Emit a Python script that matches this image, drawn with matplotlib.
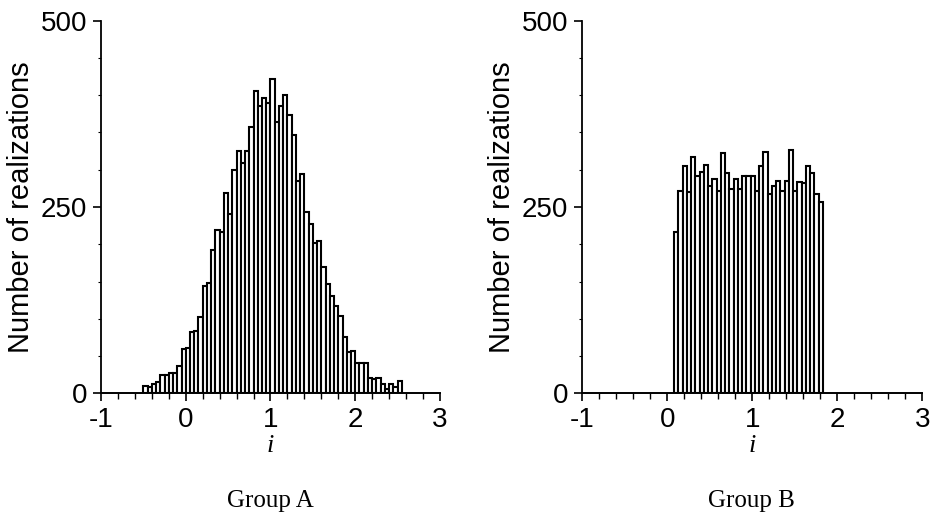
import numpy as np
import matplotlib
matplotlib.use('Agg')
import matplotlib.pyplot as plt
from matplotlib.ticker import MultipleLocator

# Histogram counts (bins of width 0.05)
bin_width = 0.05
a_start = -0.5
a_counts = [10, 8, 13, 15, 25, 24, 27, 27, 37, 59,
            61, 82, 84, 103, 144, 148, 192, 219, 216, 269,
            241, 300, 325, 309, 325, 357, 406, 385, 396, 390,
            422, 364, 385, 400, 374, 347, 285, 294, 243, 227,
            202, 204, 170, 146, 131, 117, 104, 76, 56, 57,
            40, 40, 41, 21, 19, 20, 12, 6, 12, 8,
            17]
b_start = 0.08
b_counts = [217, 271, 305, 270, 317, 291, 297, 306, 278, 288,
            271, 322, 295, 274, 287, 274, 291, 291, 292, 271,
            305, 324, 267, 278, 285, 272, 285, 326, 271, 283,
            282, 305, 295, 267, 257]

x_ticks = [-1, 0, 1, 2, 3]
y_ticks = [0, 250, 500]
y_label = 'Number of realizations'
x_label = 'i'
titles = ['Group A', 'Group B']

sans = ['Liberation Sans', 'DejaVu Sans']
serif = ['Liberation Serif', 'DejaVu Serif']

fig = plt.figure(figsize=(9.3, 5.2), dpi=100)
ax_a = fig.add_axes([0.1086, 0.2437, 0.3645, 0.7165])
ax_b = fig.add_axes([0.6261, 0.2437, 0.3656, 0.7165])

panels = [(ax_a, a_start, a_counts), (ax_b, b_start, b_counts)]
for ax, start, counts in panels:
    lefts = start + bin_width * np.arange(len(counts))
    ax.bar(lefts, counts, width=bin_width, align='edge',
           color='white', edgecolor='black', linewidth=1.5, zorder=2)

    ax.set_xlim(-1, 3)
    ax.set_ylim(0, 500)
    ax.spines['top'].set_visible(False)
    ax.spines['right'].set_visible(False)
    ax.spines['left'].set_linewidth(1.3)
    ax.spines['bottom'].set_linewidth(1.4)
    ax.spines['bottom'].set_zorder(3)

    ax.set_xticks(x_ticks)
    ax.set_xticklabels([str(t) for t in x_ticks], family=sans, fontsize=20)
    ax.set_yticks(y_ticks)
    ax.set_yticklabels([str(t) for t in y_ticks], family=sans, fontsize=20)
    ax.xaxis.set_minor_locator(MultipleLocator(0.2))
    ax.yaxis.set_minor_locator(MultipleLocator(50))
    ax.tick_params(which='major', direction='out', length=6, width=1.2, pad=4)
    ax.tick_params(which='minor', axis='x', direction='out', length=4, width=1.0)
    ax.tick_params(which='minor', axis='y', direction='out', length=2, width=0.8)

    ax.set_ylabel(y_label, family=sans, fontsize=21, labelpad=4)
    ax.set_xlabel(x_label, family=serif, fontstyle='italic', fontsize=19, labelpad=1)

# Group captions under each panel
fig.text(0.291, 0.037, titles[0], family=serif, fontsize=18, ha='center', va='center')
fig.text(0.808, 0.037, titles[1], family=serif, fontsize=18, ha='center', va='center')

fig.savefig('out.png', dpi=100)
